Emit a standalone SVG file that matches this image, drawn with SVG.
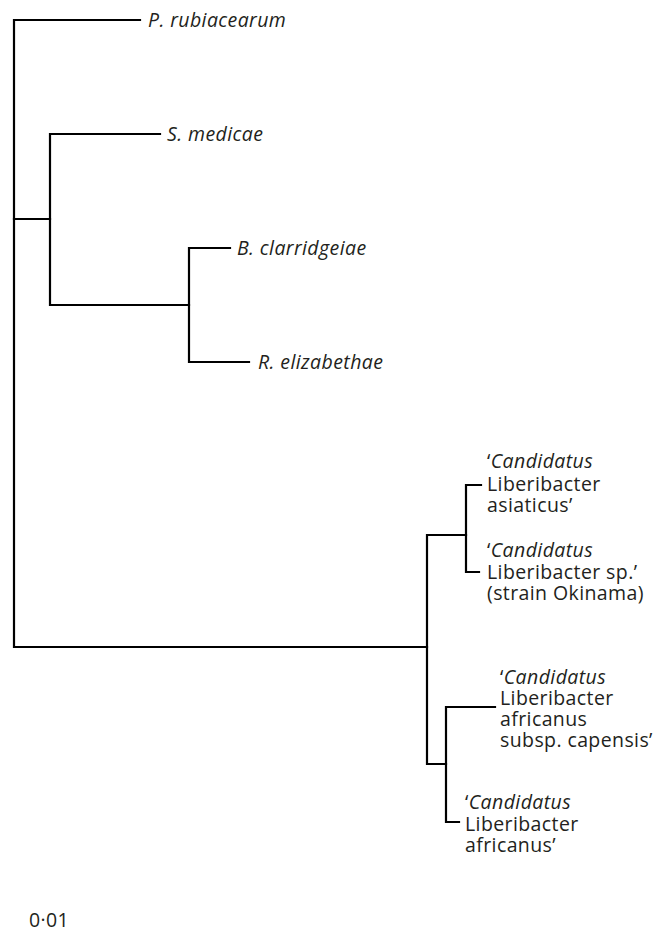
<svg xmlns="http://www.w3.org/2000/svg" width="665" height="933" viewBox="0 0 665 933">
<style>
.br{fill:none;stroke:#000;stroke-width:2.2;stroke-linecap:square;stroke-linejoin:miter}
text{font-family:"Open Sans","Noto Sans","Liberation Sans",sans-serif;font-size:19.5px;letter-spacing:0.4px;fill:#231f20}
.it{font-style:italic}
</style>
<rect width="665" height="933" fill="#fff"/>
<g id="connectors">
<path class="br" d="M140,20 H14 V647 H427"/>
<path class="br" d="M14,219 H50"/>
<path class="br" d="M160,134 H50 V305 H189"/>
<path class="br" d="M230,248 H189 V362 H249"/>
<path class="br" d="M466,535 H427 V764 H446"/>
<path class="br" d="M481,485 H466 V572 H479"/>
<path class="br" d="M495,707 H446 V822 H459"/>
</g>
<g id="p-rubiacearum"><text class="it" x="148" y="27">P. rubiacearum</text></g>
<g id="s-medicae"><text class="it" x="167" y="141">S. medicae</text></g>
<g id="b-clarridgeiae"><text class="it" x="237" y="255">B. clarridgeiae</text></g>
<g id="r-elizabethae"><text class="it" x="258" y="369">R. elizabethae</text></g>
<g id="l-asiaticus">
<text x="487" y="468">‘<tspan class="it">Candidatus</tspan></text>
<text x="487" y="490.5">Liberibacter</text>
<text x="487" y="512">asiaticus’</text>
</g>
<g id="l-okinama">
<text x="487" y="557">‘<tspan class="it">Candidatus</tspan></text>
<text x="487" y="578.5">Liberibacter sp.’</text>
<text x="487" y="599.5">(strain Okinama)</text>
</g>
<g id="l-capensis">
<text x="500" y="684">‘<tspan class="it">Candidatus</tspan></text>
<text x="500" y="705">Liberibacter</text>
<text x="500" y="726">africanus</text>
<text x="500" y="747">subsp. capensis’</text>
</g>
<g id="l-africanus">
<text x="465" y="808.5">‘<tspan class="it">Candidatus</tspan></text>
<text x="465" y="830.5">Liberibacter</text>
<text x="465" y="852">africanus’</text>
</g>
<g id="scale"><text x="29" y="927">0·01</text></g>
</svg>
